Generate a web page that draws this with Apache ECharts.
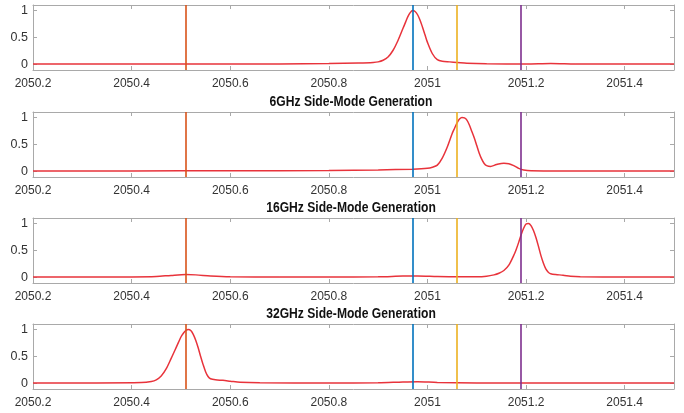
<!DOCTYPE html>
<html><head><meta charset="utf-8">
<script src="https://cdn.jsdelivr.net/npm/echarts@6/dist/echarts.min.js"></script>
<style>html,body{margin:0;padding:0;background:#fff}#c{width:684px;height:413px}</style>
</head><body><div id="c"></div>
<script>
// ---- data ----
const xMin = 2050.2, xMax = 2051.5;
const xTickStep = 0.2;
const yTicks = [0, 0.5, 1];
const panelTitles = ['', '6GHz Side-Mode Generation', '16GHz Side-Mode Generation', '32GHz Side-Mode Generation'];
const markerFreqs = [2050.507, 2050.966, 2051.059, 2051.192];
const markerColors = ['#D95319', '#0072BD', '#EDB120', '#7E2F8E'];

const freq1 = [2050.2, 2050.3, 2050.4, 2050.5, 2050.6, 2050.7, 2050.8, 2050.86, 2050.89, 2050.9, 2050.91, 2050.92, 2050.93, 2050.94, 2050.95, 2050.955, 2050.96, 2050.965, 2050.97, 2050.975, 2050.98, 2050.985, 2050.99, 2050.995, 2051.0, 2051.01, 2051.02, 2051.03, 2051.045, 2051.06, 2051.08, 2051.12, 2051.2, 2051.25, 2051.3, 2051.4, 2051.5];
const amp1 = [0.01, 0.01, 0.01, 0.01, 0.01, 0.012, 0.018, 0.03, 0.04, 0.05, 0.08, 0.14, 0.26, 0.44, 0.66, 0.77, 0.88, 0.96, 1.0, 0.98, 0.92, 0.82, 0.69, 0.55, 0.41, 0.2, 0.09, 0.06, 0.05, 0.04, 0.025, 0.015, 0.01, 0.02, 0.012, 0.01, 0.01];

const freq2 = [2050.2, 2050.4, 2050.6, 2050.8, 2050.9, 2050.97, 2051.0, 2051.01, 2051.02, 2051.03, 2051.04, 2051.05, 2051.055, 2051.06, 2051.065, 2051.07, 2051.075, 2051.08, 2051.085, 2051.09, 2051.095, 2051.1, 2051.105, 2051.11, 2051.115, 2051.12, 2051.128, 2051.14, 2051.155, 2051.165, 2051.175, 2051.185, 2051.195, 2051.21, 2051.3, 2051.4, 2051.5];
const amp2 = [0.01, 0.012, 0.015, 0.02, 0.03, 0.045, 0.06, 0.08, 0.12, 0.25, 0.45, 0.7, 0.8, 0.9, 0.97, 1.0, 0.99, 0.95, 0.86, 0.74, 0.62, 0.48, 0.34, 0.23, 0.15, 0.11, 0.095, 0.13, 0.155, 0.145, 0.11, 0.06, 0.03, 0.015, 0.01, 0.01, 0.01];

const freq3 = [2050.2, 2050.3, 2050.4, 2050.45, 2050.48, 2050.51, 2050.53, 2050.56, 2050.6, 2050.7, 2050.8, 2050.9, 2050.95, 2050.98, 2051.02, 2051.06, 2051.1, 2051.12, 2051.135, 2051.145, 2051.155, 2051.165, 2051.175, 2051.18, 2051.185, 2051.19, 2051.195, 2051.2, 2051.205, 2051.21, 2051.215, 2051.22, 2051.225, 2051.23, 2051.235, 2051.24, 2051.245, 2051.25, 2051.26, 2051.275, 2051.29, 2051.31, 2051.4, 2051.5];
const amp3 = [0.01, 0.01, 0.012, 0.02, 0.04, 0.055, 0.05, 0.03, 0.015, 0.01, 0.01, 0.015, 0.028, 0.03, 0.02, 0.015, 0.015, 0.025, 0.05, 0.08, 0.13, 0.23, 0.41, 0.52, 0.65, 0.79, 0.91, 0.99, 1.0, 0.96, 0.87, 0.74, 0.58, 0.41, 0.27, 0.16, 0.1, 0.07, 0.055, 0.045, 0.025, 0.015, 0.01, 0.01];

const freq4 = [2050.2, 2050.3, 2050.42, 2050.44, 2050.45, 2050.46, 2050.47, 2050.48, 2050.49, 2050.495, 2050.5, 2050.505, 2050.51, 2050.515, 2050.52, 2050.525, 2050.53, 2050.535, 2050.54, 2050.545, 2050.55, 2050.555, 2050.56, 2050.57, 2050.585, 2050.6, 2050.62, 2050.66, 2050.8, 2050.9, 2050.95, 2050.98, 2051.02, 2051.1, 2051.3, 2051.5];
const amp4 = [0.01, 0.012, 0.02, 0.04, 0.07, 0.14, 0.27, 0.46, 0.66, 0.76, 0.86, 0.93, 0.98, 1.0, 0.98, 0.91, 0.8, 0.66, 0.5, 0.35, 0.22, 0.13, 0.09, 0.07, 0.06, 0.045, 0.025, 0.015, 0.012, 0.015, 0.03, 0.035, 0.02, 0.012, 0.01, 0.01];

const freqs = [freq1, freq2, freq3, freq4];
const amps = [amp1, amp2, amp3, amp4];

// ---- layout ----
const gridTops = [5, 112, 218, 324];
const gridH = 65;
const boxColor = '#a9a9a9';
const labelColor = '#333';
const labelFont = '"Liberation Sans", Arial, sans-serif';

const grids = [], xAxes = [], yAxes = [], series = [], graphics = [];
const fmtX = v => String(Math.round(v * 10) / 10);

for (let i = 0; i < 4; i++) {
  grids.push({left: 33, right: 10, top: gridTops[i], height: gridH, show: false});
  const base = {
    type: 'value', gridIndex: i, min: xMin, max: xMax, interval: xTickStep,
    splitLine: {show: false},
    axisLine: {show: true, onZero: false, lineStyle: {color: boxColor, width: 1}},
    axisTick: {show: true, inside: true, length: 4, lineStyle: {color: boxColor}}
  };
  xAxes.push(Object.assign({}, base, {position: 'bottom',
    axisLabel: {show: true, color: labelColor, fontSize: 12, margin: 8, fontFamily: labelFont, formatter: fmtX, showMaxLabel: false}}));
  xAxes.push(Object.assign({}, base, {position: 'top', axisLabel: {show: false}}));
  const ybase = {
    type: 'value', gridIndex: i, min: -0.1, max: 1.1,
    splitLine: {show: false},
    axisLine: {show: true, onZero: false, lineStyle: {color: boxColor, width: 1}},
    axisTick: {show: true, inside: true, length: 4, customValues: yTicks, lineStyle: {color: boxColor}}
  };
  yAxes.push(Object.assign({}, ybase, {position: 'left',
    axisLabel: {show: true, customValues: yTicks, color: labelColor, fontSize: 12.5, margin: 5, fontFamily: labelFont}}));
  yAxes.push(Object.assign({}, ybase, {position: 'right', axisLabel: {show: false}}));

  const data = freqs[i].map((f, k) => [f, amps[i][k]]);
  series.push({
    type: 'line', xAxisIndex: i * 2, yAxisIndex: i * 2, data: data,
    showSymbol: false, smooth: 0.3,
    lineStyle: {color: '#e8333b', width: 1.5}, itemStyle: {color: '#e8333b'},
    markLine: {
      silent: true, symbol: ['none', 'none'], label: {show: false}, z: 5,
      data: markerFreqs.map((f, k) => ({xAxis: f, lineStyle: {color: markerColors[k], width: 1.6, type: 'solid'}}))
    }
  });
  if (panelTitles[i]) {
    graphics.push({type: 'text', x: 351, y: gridTops[i] - 10, scaleX: 0.865, scaleY: 1,
      style: {text: panelTitles[i], align: 'center', verticalAlign: 'middle',
        font: 'bold 14px "Liberation Sans", Arial, sans-serif', fill: '#111'}});
  }
}

const chart = echarts.init(document.getElementById('c'), null, {renderer: 'canvas'});
chart.setOption({
  animation: false,
  backgroundColor: '#fff',
  grid: grids, xAxis: xAxes, yAxis: yAxes, series: series, graphic: graphics
});
</script></body></html>
